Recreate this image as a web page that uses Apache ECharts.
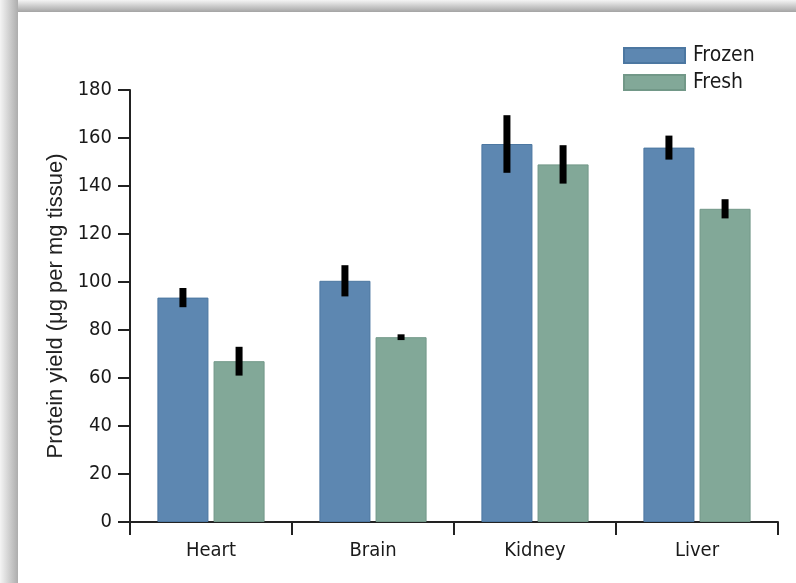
<!DOCTYPE html>
<html>
<head>
<meta charset="utf-8">
<script src="https://cdn.jsdelivr.net/npm/echarts@6/dist/echarts.min.js"></script>
<style>
html,body{margin:0;padding:0;background:#fff;}
#c{width:796px;height:583px;}
</style>
</head>
<body>
<div id="c"></div>
<script>
const categories = ['Heart', 'Brain', 'Kidney', 'Liver'];
const frozen = [93.5, 100.5, 157.5, 156];
const fresh = [67, 77, 149, 130.5];
const frozenErr = [4, 6.5, 12, 5];
const freshErr = [6, 1.2, 8, 4];
const yTicks = [0, 20, 40, 60, 80, 100, 120, 140, 160, 180];

const NARROW = '"DejaVu Sans Condensed", "Liberation Sans Narrow", "Liberation Sans", Arial, sans-serif';
const frozenColor = '#5d87b1';
const freshColor = '#82a898';
const BAR_PCT = 0.315;
const GAP_PCT = 0.10;

function errData(vals, errs) {
  return vals.map((v, i) => [i, v - errs[i], v + errs[i]]);
}
function errRender(sign) {
  return function (params, api) {
    const cat = api.value(0);
    const top = api.coord([cat, api.value(2)]);
    const bot = api.coord([cat, api.value(1)]);
    const band = api.size([1, 0])[0];
    const bw = band * BAR_PCT;
    const off = sign * bw * (1 + GAP_PCT) / 2;
    return {
      type: 'rect',
      shape: { x: top[0] + off - 3.5, y: top[1], width: 7, height: bot[1] - top[1] },
      style: { fill: '#000' }
    };
  };
}

const chart = echarts.init(document.getElementById('c'), null, { renderer: 'canvas' });
chart.setOption({
  animation: false,
  backgroundColor: '#fff',
  graphic: [
    { type: 'rect', shape: { x: 0, y: 0, width: 796, height: 12 }, z: 100,
      style: { fill: new echarts.graphic.LinearGradient(0, 0, 0, 1, [{ offset: 0, color: '#f4f4f4' }, { offset: 1, color: '#a4a4a4' }]) } },
    { type: 'rect', shape: { x: 0, y: 0, width: 18, height: 583 }, z: 101,
      style: { fill: new echarts.graphic.LinearGradient(0, 0, 1, 0, [{ offset: 0, color: '#f4f4f4' }, { offset: 1, color: '#adadad' }]) } }
  ],
  grid: { left: 130, right: 18, top: 90, bottom: 61, containLabel: false },
  legend: {
    data: ['Frozen', 'Fresh'],
    orient: 'vertical',
    left: 618, top: 40,
    itemWidth: 61, itemHeight: 15, itemGap: 6,
    icon: 'rect',
    textStyle: { fontFamily: NARROW, fontSize: 21, color: '#1a1a1a', padding: [0, 0, 0, 3] }
  },
  xAxis: {
    type: 'category',
    data: categories,
    boundaryGap: true,
    axisLine: { lineStyle: { color: '#222', width: 2 } },
    axisTick: { show: true, length: 13, lineStyle: { color: '#222', width: 2 } },
    axisLabel: { fontFamily: NARROW, fontSize: 20, color: '#1a1a1a', margin: 19 },
    splitLine: { show: false }
  },
  yAxis: {
    type: 'value',
    min: 0, max: 180, interval: 20,
    name: 'Protein yield (μg per mg tissue)',
    nameLocation: 'middle',
    nameGap: 62,
    nameTextStyle: { fontFamily: '"Liberation Sans", Arial, sans-serif', fontSize: 22, color: '#222' },
    axisLine: { show: true, lineStyle: { color: '#222', width: 2 } },
    axisTick: { show: true, length: 12, lineStyle: { color: '#222', width: 2 } },
    axisLabel: { fontFamily: NARROW, fontSize: 20, color: '#1a1a1a', margin: 18,
      formatter: v => yTicks.includes(v) ? String(v) : '' },
    splitLine: { show: false }
  },
  series: [
    { name: 'Frozen', type: 'bar', data: frozen, barWidth: (BAR_PCT * 100) + '%', barGap: (GAP_PCT * 100) + '%',
      itemStyle: { color: frozenColor, borderColor: '#4c77a1', borderWidth: 1 } },
    { name: 'Fresh', type: 'bar', data: fresh, barWidth: (BAR_PCT * 100) + '%',
      itemStyle: { color: freshColor, borderColor: '#729888', borderWidth: 1 } },
    { name: 'FrozenErr', type: 'custom', data: errData(frozen, frozenErr), renderItem: errRender(-1), z: 10,
      encode: { x: 0, y: [1, 2] } },
    { name: 'FreshErr', type: 'custom', data: errData(fresh, freshErr), renderItem: errRender(1), z: 10,
      encode: { x: 0, y: [1, 2] } }
  ]
});
</script>
</body>
</html>
